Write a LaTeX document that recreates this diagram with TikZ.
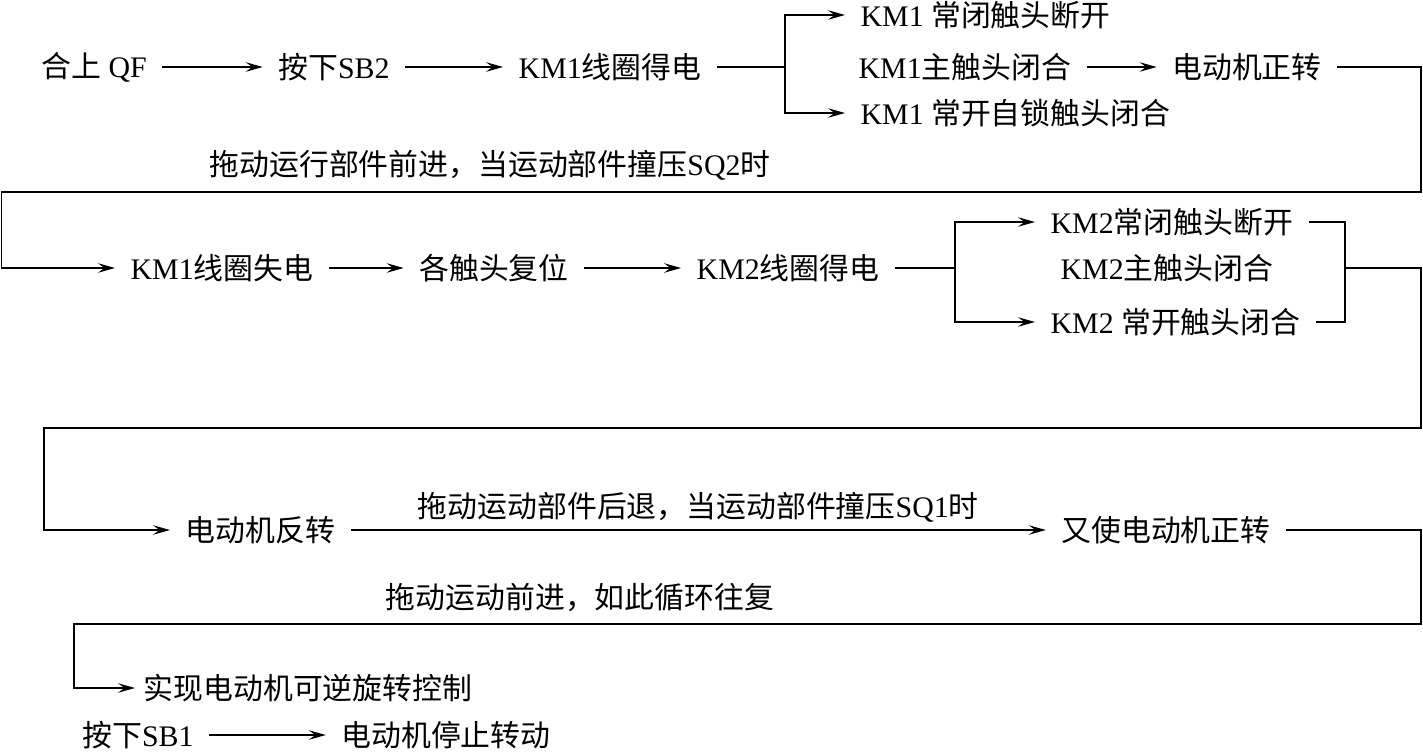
\documentclass[tikz,border=0pt]{standalone}
\usepackage{fontspec}
\setmainfont{Liberation Serif}
\newfontfamily\cjk{Noto Sans CJK SC}
\usepackage{tikz}
\usetikzlibrary{arrows.meta, positioning}
\newcommand{\zhs}[1]{{\cjk #1}}

\begin{document}
\begin{tikzpicture}[
    x=0.02cm, y=-0.02cm,
    line width=0.75pt,
    font=\fontsize{17pt}{20pt}\selectfont,
    stepbox/.style = {inner xsep=0.3cm, inner ysep=1pt},
    note/.style = {inner sep=1pt},
    arrow/.style = {-{Stealth[length=3.4mm, width=1.9mm, inset=1.3mm]}}
  ]
  \useasboundingbox (0,0) rectangle (1423,753);

  \node[stepbox] (qf)    at (94,67)  {\zhs{合上} QF};
  \node[stepbox] (sb2)   at (334,67) {\zhs{按下}SB2};
  \node[stepbox] (kmon1) at (610,67) {KM1\zhs{线圈得电}};
  \coordinate (fork1) at (785,67);
  \node[stepbox, anchor=west] (nc1)   at (845,15)  {KM1 \zhs{常闭触头断开}};
  \node[stepbox, anchor=west] (main1) at (843,67)  {KM1\zhs{主触头闭合}};
  \node[stepbox, anchor=west] (lock1) at (845,113) {KM1 \zhs{常开自锁触头闭合}};
  \node[stepbox] (fwd)   at (1247,67) {\zhs{电动机正转}};
  \node[note] (sq2) at (490,165) {\zhs{拖动运行部件前进，当运动部件撞压}SQ2\zhs{时}};

  \draw[arrow] (qf.east) -- (sb2.west);
  \draw[arrow] (sb2.east) -- (kmon1.west);
  \draw (kmon1.east) -- (fork1);
  \draw[arrow] (fork1) |- (nc1.west);
  \draw[arrow] (fork1) |- (lock1.west);
  \draw[arrow] (main1.east) -- (fwd.west);

  \node[stepbox, anchor=west] (kmoff) at (115,268) {KM1\zhs{线圈失电}};
  \node[stepbox] (reset) at (494,268) {\zhs{各触头复位}};
  \node[stepbox] (kmon2) at (788,268) {KM2\zhs{线圈得电}};
  \coordinate (fork2) at (955,268);
  \node[stepbox, anchor=west] (nc2)   at (1035,222) {KM2\zhs{常闭触头断开}};
  \node[stepbox, anchor=west] (main2) at (1045,268) {KM2\zhs{主触头闭合}};
  \node[stepbox, anchor=west] (no2)   at (1035,322) {KM2 \zhs{常开触头闭合}};
  \coordinate (join2) at (1345,268);

  \draw[arrow] (fwd.east) -- (1421,67) |- (1.5,192) |- (kmoff.west);
  \draw[arrow] (kmoff.east) -- (reset.west);
  \draw[arrow] (reset.east) -- (kmon2.west);
  \draw (kmon2.east) -- (fork2);
  \draw[arrow] (fork2) |- (nc2.west);
  \draw[arrow] (fork2) |- (no2.west);
  \draw (nc2.east) -| (join2) |- (no2.east);

  \node[stepbox, anchor=west] (rev) at (170,530) {\zhs{电动机反转}};
  \node[stepbox] (fwd2) at (1166,530) {\zhs{又使电动机正转}};
  \node[note] (loop) at (580,597) {\zhs{拖动运动前进，如此循环往复}};

  \draw[arrow] (join2) -- (1421,268) |- (44,428) |- (rev.west);
  \draw[arrow] (rev.east) -- node[note, above=3pt]
    {\zhs{拖动运动部件后退，当运动部件撞压}SQ1\zhs{时}} (fwd2.west);

  \node[stepbox, inner xsep=0.16cm, anchor=west] (ctrl) at (135,688) {\zhs{实现电动机可逆旋转控制}};
  \node[stepbox] (sb1)  at (138,735) {\zhs{按下}SB1};
  \node[stepbox] (stop) at (446,735) {\zhs{电动机停止转动}};

  \draw[arrow] (fwd2.east) -- (1421,530) |- (74,624) |- (ctrl.west);
  \draw[arrow] (sb1.east) -- (stop.west);
\end{tikzpicture}
\end{document}
